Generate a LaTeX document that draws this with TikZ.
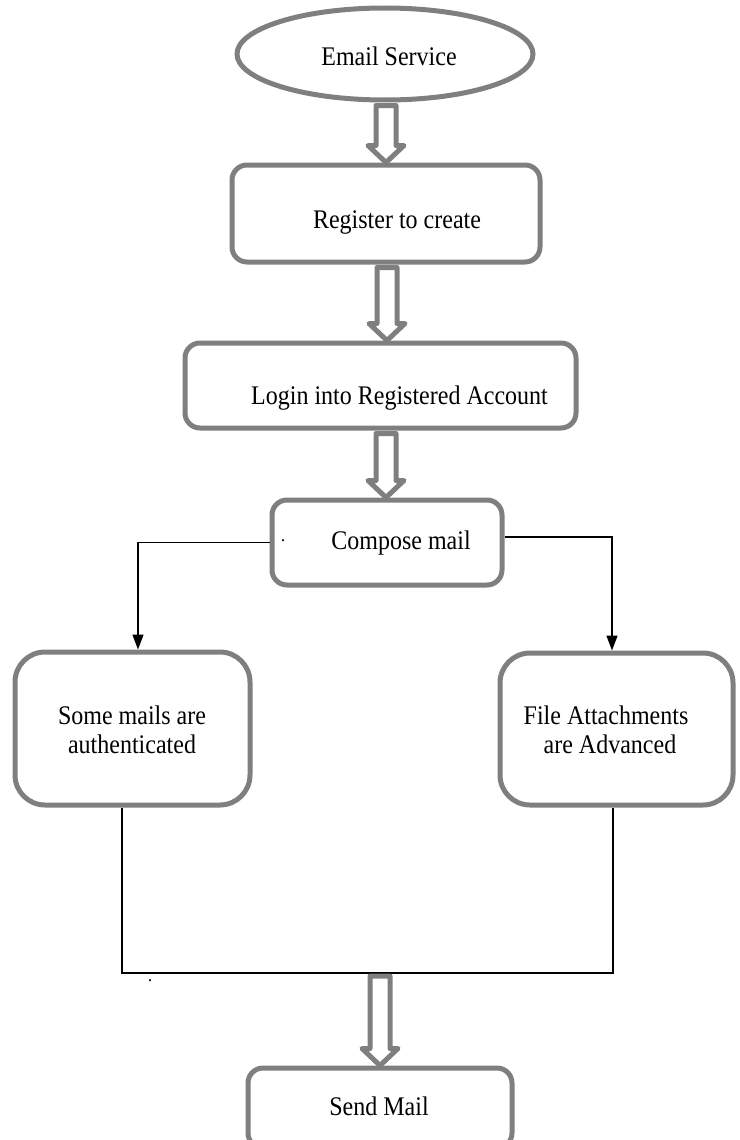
\documentclass[tikz,border=0pt]{standalone}
\usepackage{fontspec}
\setmainfont{Liberation Serif}
\usetikzlibrary{shapes.geometric,arrows.meta,calc}
\definecolor{bordergray}{HTML}{7F7F7F}
\newcommand{\tx}[1]{\scalebox{1}[1.12]{#1}}
\tikzset{
  box/.style={draw=bordergray, line width=5pt, rounded corners=15pt, fill=none, inner sep=0pt},
  bigbox/.style={box, rounded corners=30pt},
  txt/.style={font=\fontsize{24pt}{29pt}\selectfont, inner sep=0pt, align=center},
  dotmark/.style={font=\fontsize{18pt}{20pt}\selectfont, inner sep=0pt},
  conn/.style={draw=black, line width=1.5pt, -{Triangle[width=11pt,length=15pt]}},
  thinline/.style={draw=black, line width=1.2pt},
  hollow/.style={draw=bordergray, line width=5pt, fill=white, line join=round,
    to path={let \p1=(\tikztostart), \p2=(\tikztotarget) in
      (\x1-10pt,\y1-3pt) -- (\x1+10pt,\y1-3pt) -- (\x1+10pt,\y2+17pt) -- (\x1+18pt,\y2+17pt)
      -- (\x1,\y2) -- (\x1-18pt,\y2+17pt) -- (\x1-10pt,\y2+17pt) -- cycle}}
}
\begin{document}
\begin{tikzpicture}[x=1pt,y=-1pt]
\useasboundingbox (0,0) rectangle (739,1140);

% shapes
\node[ellipse, draw=bordergray, line width=5pt, minimum width=296pt, minimum height=92pt] (e) at (385,54) {};
\node[box, minimum width=308pt, minimum height=97pt] (r1) at (386,213.5) {};
\node[box, minimum width=391pt, minimum height=85pt] (r2) at (380.5,385.5) {};
\node[box, minimum width=230pt, minimum height=85pt] (c) at (387,542.5) {};
\node[bigbox, minimum width=235pt, minimum height=153pt] (sl) at (132.5,728.5) {};
\node[bigbox, minimum width=233pt, minimum height=152pt] (sr) at (616.5,729) {};
\node[box, minimum width=264pt, minimum height=80pt] (sm) at (380,1108) {};

% texts
\node[txt] (te) at (389,56) {\tx{Email Service}};
\node[txt] (t1) at (397,222) {\tx{Register to create}};
\node[txt] (t2) at (399.5,398) {\tx{Login into Registered Account}};
\node[txt] (t3) at (401,543) {\tx{Compose mail}};
\node[txt] (tl) at (132,730) {\tx{Some mails are}\\\tx{authenticated}};
\node[txt] (tr) at (606,730) {\tx{File Attachments}\\\hspace*{8pt}\tx{are Advanced}};
\node[txt] (ts) at (379,1106) {\tx{Send Mail}};
\node[dotmark] (d1) at (283,541) {.};
\node[dotmark] (d2) at (150,981) {.};

% helper coordinates
\coordinate (ax1) at (386,0);
\coordinate (ax2) at (387,0);
\coordinate (ax3) at (386,0);
\coordinate (la) at (138,0);
\coordinate (ra) at (612,0);
\coordinate (bl) at (122,0);
\coordinate (br) at (613,0);
\coordinate (join) at (380,973);

% hollow arrows
\draw[hollow] (ax1 |- e.south) to (ax1 |- r1.north);
\draw[hollow] (ax2 |- r1.south) to (ax2 |- r2.north);
\draw[hollow] (ax3 |- r2.south) to (ax3 |- c.north);

% compose branches
\draw[conn] (c.west) -| (la |- sl.north);
\draw[conn] ($(c.east)+(0,-5.5)$) -| (ra |- sr.north);

% merge
\draw[thinline] (bl |- sl.south) |- (join) -| (br |- sr.south);
\draw[hollow] (join) to (join |- sm.north);
\end{tikzpicture}
\end{document}
